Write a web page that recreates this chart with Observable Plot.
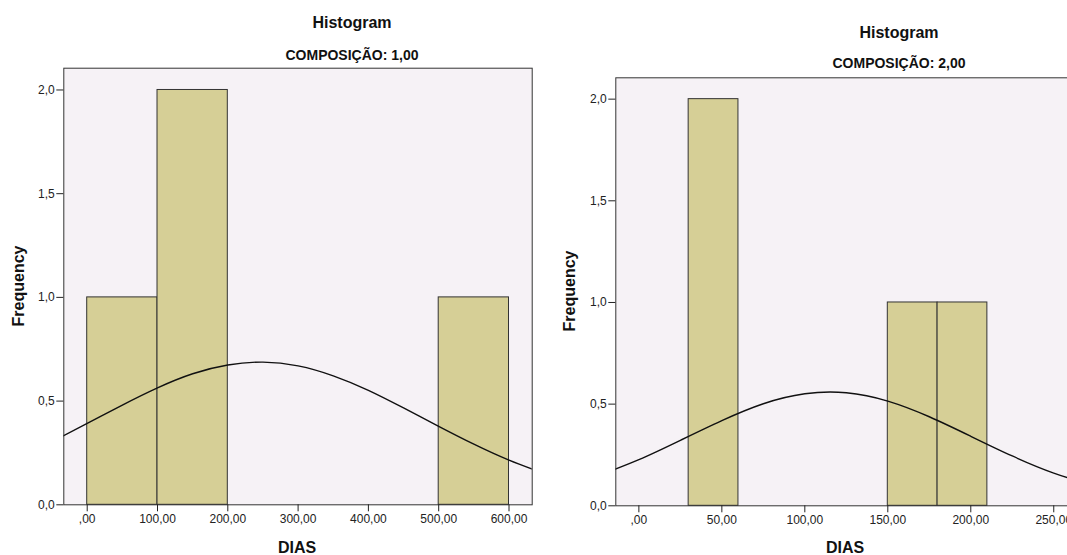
<!DOCTYPE html>
<html><head><meta charset="utf-8">
<script src="https://cdn.jsdelivr.net/npm/d3@7"></script>
<script src="https://cdn.jsdelivr.net/npm/@observablehq/plot@0.6"></script>
<style>
html,body{margin:0;padding:0;background:#fff;overflow:hidden;width:1067px;height:555px;}
#root{position:relative;width:1067px;height:555px;font-family:"Liberation Sans",Arial,sans-serif;color:#111;overflow:hidden;}
.lbl{position:absolute;transform:translate(-50%,-50%);white-space:nowrap;font-weight:bold;line-height:1;}
.rot{transform:translate(-50%,-50%) rotate(-90deg);}
.panel{position:absolute;top:0;}
</style></head><body><div id="root"></div>
<script>
// ---- shared texts ----
const titles = ["Histogram", "Histogram"];
const subtitles = ["COMPOSIÇÃO: 1,00", "COMPOSIÇÃO: 2,00"];
const xLabel = "DIAS";
const yLabel = "Frequency";
const yTicks = [0, 0.5, 1, 1.5, 2];
const yTickLabels = ["0,0", "0,5", "1,0", "1,5", "2,0"];

// ---- panel 1 (COMPOSIÇÃO 1,00) ----
const bins1Start = [0, 100, 500];
const bins1End = [100, 200, 600];
const bins1Count = [1, 2, 1];
const curve1X = [-50, 0, 50, 100, 150, 200, 250, 300, 350, 400, 450, 500, 550, 600, 650];
const curve1Y = [0.305, 0.392, 0.481, 0.564, 0.632, 0.674, 0.688, 0.670, 0.622, 0.552, 0.467, 0.378, 0.292, 0.215, 0.151];
const xTicks1 = [0, 100, 200, 300, 400, 500, 600];
const xTickLabels1 = [",00", "100,00", "200,00", "300,00", "400,00", "500,00", "600,00"];

// ---- panel 2 (COMPOSIÇÃO 2,00) ----
const bins2Start = [30, 150, 180];
const bins2End = [60, 180, 210];
const bins2Count = [2, 1, 1];
const curve2X = [-25, 0, 25, 50, 75, 100, 125, 150, 175, 200, 225, 250, 275];
const curve2Y = [0.147, 0.227, 0.322, 0.419, 0.502, 0.551, 0.556, 0.515, 0.438, 0.342, 0.245, 0.161, 0.097];
const xTicks2 = [0, 50, 100, 150, 200, 250];
const xTickLabels2 = [",00", "50,00", "100,00", "150,00", "200,00", "250,00"];

function panel(o) {
  const bars = o.start.map((s, i) => ({x1: s, x2: o.end[i], y: o.count[i]}));
  const curve = o.cx.map((x, i) => ({x, y: o.cy[i]}));
  return Plot.plot({
    width: o.width, height: 555,
    marginLeft: o.ml, marginRight: o.mr, marginTop: o.mt, marginBottom: 555 - o.mb,
    x: {domain: o.xdom, label: null},
    y: {domain: [0, 2.105], label: null},
    style: {fontFamily: "'Liberation Sans', Arial, sans-serif", fontSize: "12px", color: "#222", background: "transparent", overflow: "visible"},
    marks: [
      Plot.frame({fill: "#F6F2F6", stroke: null}),
      Plot.rectY(bars, {x1: "x1", x2: "x2", y: "y", fill: "#D6CF96", stroke: "#333", strokeWidth: 1}),
      Plot.line(curve, {x: "x", y: "y", curve: "natural", stroke: "#111", strokeWidth: 1.4, clip: true}),
      Plot.frame({stroke: "#333", strokeWidth: 1}),
      Plot.axisX({ticks: o.xticks, tickFormat: d => o.xlabels[o.xticks.indexOf(d)], tickSize: 7, tickPadding: 3, label: null}),
      Plot.axisY({ticks: yTicks, tickFormat: d => yTickLabels[yTicks.indexOf(d)], tickSize: 7, tickPadding: 2, label: null})
    ]
  });
}

const root = document.getElementById("root");
function place(el, left) {
  el.classList.add("panel");
  el.style.left = left + "px";
  root.appendChild(el);
}
place(panel({width: 540, ml: 63.3, mr: 8.3, mt: 67.7, mb: 504.3, xdom: [-33.3, 633],
  start: bins1Start, end: bins1End, count: bins1Count, cx: curve1X, cy: curve1Y,
  xticks: xTicks1, xlabels: xTickLabels1}), 0);
place(panel({width: 540, ml: 75.3, mr: 5, mt: 77.3, mb: 505.3, xdom: [-13.9, 263.1],
  start: bins2Start, end: bins2End, count: bins2Count, cx: curve2X, cy: curve2Y,
  xticks: xTicks2, xlabels: xTickLabels2}), 540);

function label(text, x, y, size, extra) {
  const d = document.createElement("div");
  d.className = "lbl" + (extra ? " " + extra : "");
  d.textContent = text;
  d.style.left = x + "px";
  d.style.top = y + "px";
  d.style.fontSize = size + "px";
  root.appendChild(d);
}
label(titles[0], 352, 23, 16);
label(subtitles[0], 352, 55, 14);
label(titles[1], 899, 33, 16);
label(subtitles[1], 899, 63, 14);
label(xLabel, 297, 548, 16);
label(xLabel, 845, 548, 16);
label(yLabel, 18.5, 286, 16, "rot");
label(yLabel, 570, 291, 16, "rot");
</script></body></html>
